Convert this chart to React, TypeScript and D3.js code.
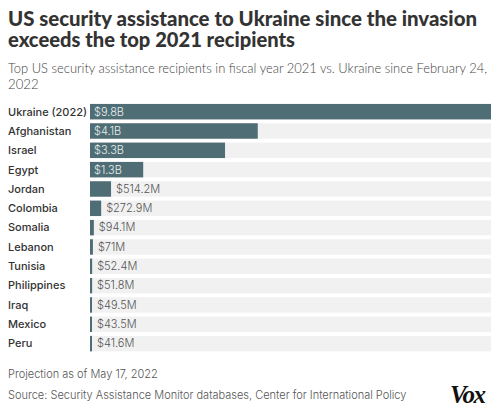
import React from "react";
import * as d3 from "d3";

const countries = ["Ukraine (2022)", "Afghanistan", "Israel", "Egypt", "Jordan", "Colombia", "Somalia", "Lebanon", "Tunisia", "Philippines", "Iraq", "Mexico", "Peru"];
const values = [9800, 4100, 3300, 1300, 514.2, 272.9, 94.1, 71, 52.4, 51.8, 49.5, 43.5, 41.6];
const valueLabels = ["$9.8B", "$4.1B", "$3.3B", "$1.3B", "$514.2M", "$272.9M", "$94.1M", "$71M", "$52.4M", "$51.8M", "$49.5M", "$43.5M", "$41.6M"];

const W = 500, H = 415;
const FONT = "Inter, 'Open Sans', sans-serif";
const TFONT = "Lato, Roboto, sans-serif";

export default function App() {
  const x = d3.scaleLinear().domain([0, d3.max(values) as number]).range([90, 491]);
  const y = d3.scaleBand<string>().domain(countries).range([102, 102 + 13 * 19.33]).paddingInner(0.2).paddingOuter(0.1);
  const bw = y.bandwidth();
  return (
    <svg width={W} height={H} style={{ position: "absolute", left: 0, top: 0, background: "#fff" }}>
      <g fontFamily={FONT}>
        <text x={8} y={26} fontSize={20} fontWeight={900} fontFamily={TFONT} fill="#333" textLength={469} lengthAdjust="spacingAndGlyphs">US security assistance to Ukraine since the invasion</text>
        <text x={8} y={47} fontSize={20} fontWeight={900} fontFamily={TFONT} fill="#333" textLength={287} lengthAdjust="spacingAndGlyphs">exceeds the top 2021 recipients</text>
        <text x={8} y={73} fontSize={13.2} fontWeight={300} fontFamily={TFONT} fill="#444" textLength={479} lengthAdjust="spacingAndGlyphs">Top US security assistance recipients in fiscal year 2021 vs. Ukraine since February 24,</text>
        <text x={8} y={89} fontSize={13.2} fontWeight={300} fontFamily={TFONT} fill="#444">2022</text>
        {countries.map((c, i) => {
          const yy = y(c) as number;
          const w = Math.max(2, x(values[i]) - x(0));
          const inside = w > 40;
          return (
            <g key={c}>
              <rect x={x(0)} y={yy} width={x.range()[1] - x(0)} height={bw} fill="#f1f1f1" />
              <rect x={x(0)} y={yy} width={w} height={bw} fill="#4f6d74" />
              <text x={8} y={yy + bw / 2} dy="0.35em" fontSize={11} fontWeight={500} fill="#333">{c}</text>
              <text x={inside ? x(0) + 4 : x(0) + w + 5} y={yy + bw / 2} dy="0.35em" fontSize={11} fontWeight={300} fill={inside ? "#e8eef0" : "#555"}>{valueLabels[i]}</text>
            </g>
          );
        })}
        <text x={8} y={378} fontSize={11} fontWeight={300} fill="#555">Projection as of May 17, 2022</text>
        <text x={8} y={399} fontSize={11} fontWeight={300} fill="#555">Source: Security Assistance Monitor databases, Center for International Policy</text>
      </g>
      <text x={450} y={403} fontSize={25} fontWeight={700} fontStyle="italic" fontFamily="'Liberation Serif', serif" fill="#111" letterSpacing={-1.5}>Vox</text>
    </svg>
  );
}
